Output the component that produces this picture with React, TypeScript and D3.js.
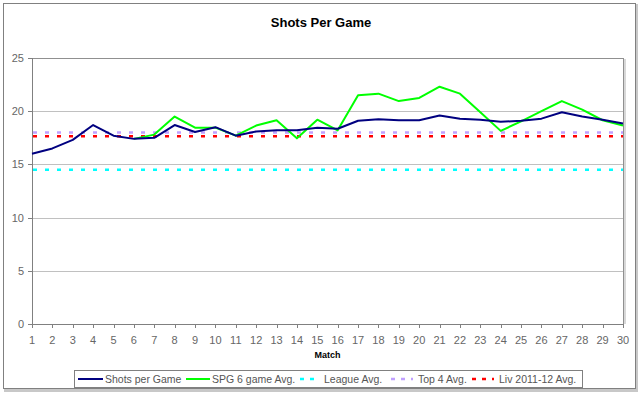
import React from "react";
import * as d3 from "d3";

const matches = d3.range(1, 31);
const shotsPerGame = [16.0, 16.5, 17.3, 18.7, 17.7, 17.4, 17.5, 18.7, 18.05, 18.5, 17.7, 18.1, 18.2, 18.2, 18.45, 18.35, 19.1, 19.25, 19.15, 19.15, 19.6, 19.3, 19.2, 19.0, 19.1, 19.3, 19.9, 19.5, 19.2, 18.85];
const spg6Matches = d3.range(6, 31);
const spg6Avg = [17.4, 17.8, 19.5, 18.45, 18.45, 17.7, 18.65, 19.15, 17.45, 19.2, 18.2, 21.5, 21.65, 20.95, 21.25, 22.3, 21.65, 19.9, 18.15, 19.05, 20.0, 20.95, 20.15, 19.15, 18.65];
const leagueAvg = 14.5;
const top4Avg = 18.0;
const livAvg = 17.65;
const yTicks = [0, 5, 10, 15, 20, 25];
const legendLabels = ["Shots per Game", "SPG 6 game Avg.", "League Avg.", "Top 4 Avg.", "Liv 2011-12 Avg."];

const W = 640, H = 393;
const font = "'Liberation Sans', Arial, sans-serif";

export default function App() {
  const x = d3.scaleLinear().domain([1, 30]).range([32, 623]);
  const y = d3.scaleLinear().domain([0, 25]).range([324, 58]);
  const line = d3.line<[number, number]>().x(d => x(d[0])).y(d => y(d[1]));
  const blueData = matches.map((m, i) => [m, shotsPerGame[i]] as [number, number]);
  const greenData = spg6Matches.map((m, i) => [m, spg6Avg[i]] as [number, number]);
  const hLines = [
    { v: leagueAvg, c: "#00FFFF" },
    { v: top4Avg, c: "#C0A0FF" },
    { v: livAvg, c: "#FF0000" },
  ];
  const legendItems = [
    { x0: 78, x1: 103, tx: 105, c: "#000080", dash: null },
    { x0: 186, x1: 210, tx: 212, c: "#00FF00", dash: null },
    { x0: 300, x1: 320, tx: 324, c: "#00FFFF", dash: "4 6" },
    { x0: 391, x1: 413, tx: 418, c: "#C0A0FF", dash: "4 6" },
    { x0: 472, x1: 494, tx: 499, c: "#FF0000", dash: "4 6" },
  ];
  return (
    <svg width={W} height={H} style={{ position: "absolute", left: 0, top: 0, background: "#fff" }} fontFamily={font}>
      <rect x={4} y={4} width={634} height={388} fill="#c8c8c8" />
      <rect x={3.5} y={3.5} width={632} height={385} fill="#fff" stroke="#808080" strokeWidth={1} />
      <text x={321} y={27} textAnchor="middle" fontSize={13} fontWeight="bold" fill="#000">Shots Per Game</text>
      <line x1={625} x2={625} y1={59} y2={324} stroke="#d8d8d8" strokeWidth={2} />
      {yTicks.filter(t => t > 0).map(t => (
        <line key={t} x1={32} x2={623} y1={Math.round(y(t)) + 0.5} y2={Math.round(y(t)) + 0.5} stroke={t === 25 ? "#909090" : "#c0c0c0"} strokeWidth={1} />
      ))}
      <line x1={623.5} x2={623.5} y1={58} y2={324} stroke="#909090" />
      <line x1={32.5} x2={32.5} y1={58} y2={324} stroke="#808080" />
      <line x1={32} x2={623} y1={324.5} y2={324.5} stroke="#808080" />
      {yTicks.map(t => (
        <g key={t}>
          <line x1={28} x2={32} y1={Math.round(y(t)) + 0.5} y2={Math.round(y(t)) + 0.5} stroke="#808080" />
          <text x={24} y={y(t) + 4} textAnchor="end" fontSize={11} fill="#666">{t}</text>
        </g>
      ))}
      {matches.map(m => (
        <g key={m}>
          <line x1={Math.round(x(m)) + 0.5} x2={Math.round(x(m)) + 0.5} y1={324} y2={328} stroke="#808080" />
          <text x={x(m)} y={344} textAnchor="middle" fontSize={11} fill="#666">{m}</text>
        </g>
      ))}
      <text x={327.5} y={358} textAnchor="middle" fontSize={9} fontWeight="bold" fill="#000">Match</text>
      {hLines.map(h => (
        <line key={h.c} x1={x(1) + 1} x2={x(30)} y1={y(h.v)} y2={y(h.v)} stroke={h.c} strokeWidth={2.5} strokeDasharray="4 8" />
      ))}
      <path d={line(greenData) || ""} fill="none" stroke="#00FF00" strokeWidth={2} strokeLinejoin="round" />
      <path d={line(blueData) || ""} fill="none" stroke="#000080" strokeWidth={2} strokeLinejoin="round" />
      <rect x={74.5} y={370.5} width={508} height={17} fill="#fff" stroke="#808080" />
      {legendItems.map((it, i) => (
        <g key={i}>
          <line x1={it.x0} x2={it.x1} y1={379} y2={379} stroke={it.c} strokeWidth={it.dash ? 2.5 : 2} strokeDasharray={it.dash || undefined} />
          <text x={it.tx} y={383} fontSize={10.5} fill="#555">{legendLabels[i]}</text>
        </g>
      ))}
    </svg>
  );
}
